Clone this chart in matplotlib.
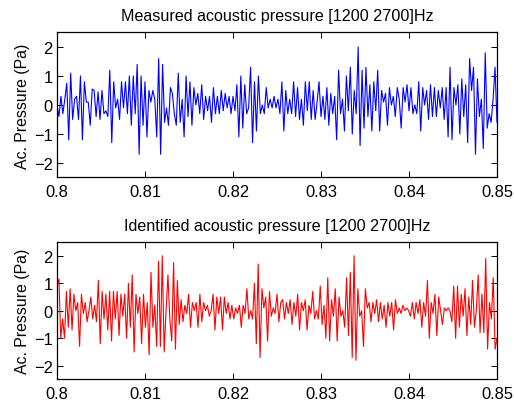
import numpy as np
import matplotlib
matplotlib.use("Agg")
import matplotlib.pyplot as plt
from matplotlib.ticker import FormatStrFormatter

t_start, t_end = 0.80, 0.85

measured = [
    # 0.800 - 0.8128
    0.0, -0.4, 0.3, -0.3, 0.2, 0.75, -1.2, 1.1, -0.5, 0.2, 0.3, -0.5, 1.0, -1.2,
    0.8, 0.1, 0.1, -0.7, 0.55, 0.5, -0.4, 0.45, -0.5, 0.5, -0.3, -0.2, -0.4,
    1.2, -1.3, 0.8, -0.1, 0.2, -0.5, 0.8, -0.1, 0.8, -0.3, 1.0, -0.7, 1.0,
    -0.3, 1.4, -1.7, 1.0, -0.7, 0.8, -1.1, 0.5, 0.1, 0.5, 0.2, -1.1, 1.6,
    -1.7, 1.4, -0.6, -0.1, -0.7, 0.6, 0.4, -0.3, -0.7,
    # 0.8128 - 0.8253
    1.1, -0.6, 0.2, -1.1, 1.0, -0.4, 0.8, -0.7, 0.6, 0.0, 0.4, -0.3, 0.7,
    -0.5, 0.3, -0.2, 0.3, -0.6, 0.6, -0.3, 0.3, -0.3, 0.5, -0.2, 0.4, -0.1,
    0.3, -0.3, 0.3, -0.2, 0.7, -1.1, 1.0, -0.8, 0.7, -0.3, -0.1, 1.3, -1.3,
    0.8, -0.9, 1.0, -0.3, 0.0, -0.3, 0.6, -0.1, 0.2, -0.1, 0.3, -0.1, 0.2, -0.3,
    # 0.8253 - 0.8375
    0.8, -0.9, 0.5, -0.3, 0.2, -0.3, 0.8, -0.4, 0.6, -0.5, 0.2, -0.7, 0.8,
    -0.2, 0.8, -0.5, 0.5, -0.5, 0.1, 0.8, -0.4, 0.3, -0.5, 0.6, -0.7, 0.4,
    -0.3, 0.3, -1.2, 1.2, -0.3, 0.2, -0.9, 1.0, -0.2, 1.3, -1.0, 0.5, -0.3,
    2.0, -1.4, 1.2, -0.8, 1.3, -0.4, 0.7, -0.9, 0.8, -0.2, 1.2,
    # 0.8375 - 0.850
    -0.9, 0.5, 0.1, 0.4, -0.7, 0.6, 0.0, 0.3, -0.4, 0.6, 0.2, -0.8, 0.6, 0.1,
    0.7, -0.2, 0.6, -0.3, 0.0, -0.3, 0.8, -0.9, 0.6, 0.0, 0.5, -0.5, 0.7,
    -0.4, 0.6, -0.4, 0.5, -0.1, 0.6, -0.5, 0.6, -1.1, 1.3, -1.2, 0.6, 0.0,
    0.7, -1.0, 0.9, -0.4, 0.7, -1.3, 1.6, 0.5, 1.3, -1.7, 0.9, -0.4, 0.2,
    -1.5, 1.8, -0.8, -0.3, -0.6, 0.2, 1.3, -0.6,
]

identified = [
    # 0.800 - 0.8128
    0.9, 1.15, -1.0, -0.3, -1.0, 0.7, -0.6, 0.8, -0.7, 0.6, 0.0, 0.3, -1.3,
    0.6, -0.1, 0.3, -0.4, 0.0, 0.5, -0.3, 0.2, -0.4, 1.1, -1.2, 0.7, -0.3,
    0.6, -0.7, 0.7, -1.1, 0.7, -0.3, 0.7, -0.9, 0.6, -0.2, 0.6, -1.0, 1.0,
    -0.6, 1.3, -1.5, 0.6, -0.1, 0.5, -1.2, 0.6, -0.6, 0.3, -1.6, 1.4, -0.6,
    0.2, -1.3, 1.8, -1.3, 2.0, -1.5, 0.0, 1.3, -0.3, -1.1,
    # 0.8128 - 0.8253
    1.75, -1.4, 1.1, -0.5, 0.4, -0.4, 0.2, -0.1, 0.6, -0.6, 0.3, 0.0, 0.3,
    -0.6, 0.6, -0.4, 0.3, 0.0, 0.2, -0.2, 0.0, 0.6, -0.7, 0.5, -0.1, 0.5,
    -0.7, 0.5, -0.1, 0.3, -0.3, 0.2, -0.3, 0.1, -0.1, 0.2, -0.6, 0.2, -0.1,
    0.8, -0.3, 0.0, -0.3, 1.0, -1.2, 1.7, -1.7, 0.8, 0.1, 0.5, -1.1, 0.7,
    -0.2, 0.1, -0.1, 0.6, -0.4, 0.3,
    # 0.8253 - 0.8375
    0.4, -0.3, 0.3, -0.1, 0.4, -0.5, 0.3, -0.2, 0.6, -0.7, 0.3, 0.0, 0.4,
    -0.7, 0.2, -0.1, 0.7, -0.3, 0.0, -0.3, 0.9, -0.5, 0.2, -1.0, 1.2, -1.1,
    0.4, -0.2, 0.8, -1.1, 0.5, -0.2, 0.0, -0.6, 1.2, -0.9, 1.4, -1.7, 2.0,
    -1.8, 0.8, -0.2, 0.0, -1.3, 0.8, 0.1, 0.3, -0.4, 0.3, -0.1, 0.4, -0.4,
    0.3, -0.3, 0.2, -0.6, 0.3,
    # 0.8375 - 0.850
    -0.2, 0.3, -0.7, 0.4, -0.1, 0.1, -0.1, 0.2, 0.0, 0.1, 0.0, -0.2, 0.3,
    -0.3, 0.3, -0.1, 0.4, -0.6, 0.3, -0.2, 1.1, -1.0, 0.3, -0.1, 0.6, -0.9,
    0.5, 0.0, -0.5, 0.1, 0.0, 0.1, 0.0, -0.4, 0.9, -1.0, 0.9, -0.6, 0.6,
    -0.2, 0.8, -0.9, 0.5, -0.5, 1.1, -0.6, 0.0, 1.3, -0.8, 0.6, -0.8, 1.9,
    -1.4, 0.3, -0.3, 1.2, -1.4, -1.0,
]

titles = ["Measured acoustic pressure [1200 2700]Hz",
          "Identified acoustic pressure [1200 2700]Hz"]
ylabel = "Ac. Pressure (Pa)"
xticks = [0.80, 0.81, 0.82, 0.83, 0.84, 0.85]
yticks = [-2, -1, 0, 1, 2]

# ---- STYLE ----
plt.rcParams.update({
    "font.family": ["Liberation Sans", "DejaVu Sans"],
    "font.size": 11.5,
    "axes.linewidth": 0.9,
    "xtick.direction": "in",
    "ytick.direction": "in",
    "xtick.top": True,
    "ytick.right": True,
    "xtick.major.size": 4,
    "ytick.major.size": 4,
    "xtick.major.width": 0.7,
    "ytick.major.width": 0.7,
})

fig = plt.figure(figsize=(5.14, 4.02), dpi=100)
ax1 = fig.add_axes([0.1109, 0.556, 0.856, 0.3607])
ax2 = fig.add_axes([0.1109, 0.0535, 0.856, 0.342])

for ax, sig, color, title in [(ax1, measured, "#0000ff", titles[0]),
                              (ax2, identified, "#ff0000", titles[1])]:
    t = np.linspace(t_start, t_end, len(sig))
    ax.plot(t, sig, color=color, linewidth=0.8)
    ax.set_xlim(t_start, t_end)
    ax.set_ylim(-2.5, 2.5)
    ax.set_xticks(xticks)
    ax.set_yticks(yticks)
    ax.xaxis.set_major_formatter(FormatStrFormatter("%g"))
    ax.set_title(title, fontsize=11.6, pad=9)
    ax.set_ylabel(ylabel, fontsize=11.4, labelpad=3)
    ax.tick_params(axis="x", labelsize=11.9, pad=4.5)
    ax.tick_params(axis="y", labelsize=11.9, pad=3)

fig.savefig("out.png", dpi=100)
